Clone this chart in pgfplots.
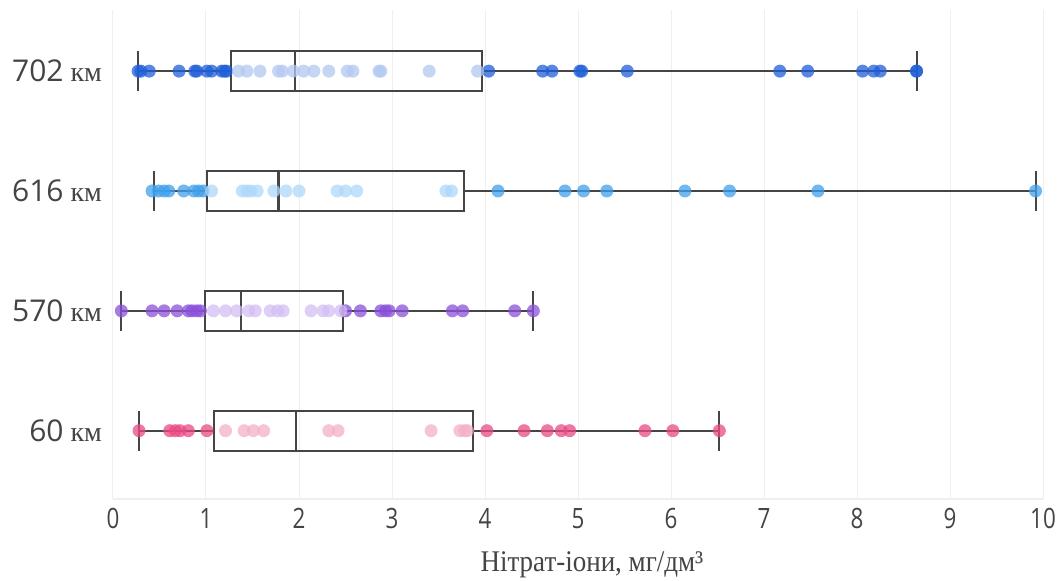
\documentclass[border=0pt]{standalone}
\usepackage{fontspec}
\setmainfont{Liberation Serif}
\newfontfamily\ysans{Open Sans}
\newfontfamily\xsans[FakeStretch=0.8]{Open Sans}
\newfontfamily\lblfont[FakeStretch=0.9]{Liberation Serif}
\usepackage{pgfplots}
\usepgfplotslibrary{statistics}
\pgfplotsset{compat=1.18}
\definecolor{cA}{HTML}{1F5FD8}
\definecolor{cB}{HTML}{3FA0EC}
\definecolor{cC}{HTML}{8A50DA}
\definecolor{cD}{HTML}{EA4A84}
\definecolor{lA}{HTML}{B2C8F2}
\definecolor{lB}{HTML}{AED7FA}
\definecolor{lC}{HTML}{D2BFF2}
\definecolor{lD}{HTML}{F4B0CA}
\definecolor{boxc}{HTML}{454545}
\definecolor{gridc}{HTML}{EFEFEF}
\definecolor{lblc}{HTML}{444444}
\pgfplotsset{
  dots/.style={only marks, mark=*, mark size=3.25pt, draw=none, draw opacity=0,
    fill=#1, fill opacity=0.75,
    mark options={draw=none, draw opacity=0, fill=#1, fill opacity=0.75}},
  bx/.style={boxplot/draw direction=x, draw=boxc, line width=1.1pt,
    boxplot/every box/.style={draw=boxc, line width=1.1pt},
    boxplot/every median/.style={draw=boxc, line width=1.1pt},
    boxplot/every whisker/.style={draw=boxc, line width=1.0pt}},
}
\begin{document}
\begin{tikzpicture}
\useasboundingbox (-56.5pt,-40.5pt) rectangle (473.5pt,249.5pt);
\begin{axis}[
  at={(0,0)}, anchor=south west,
  scale only axis, width=465pt, height=244.5pt,
  xmin=0, xmax=10, ymin=0.43, ymax=4.51,
  clip=false,
  axis x line*=bottom, axis y line*=left,
  x axis line style={draw=gridc, line width=0.6pt, -},
  y axis line style={draw=none},
  tick style={draw=none},
  xmajorgrids, major grid style={draw=gridc, line width=0.5pt},
  xtick={0,1,2,3,4,5,6,7,8,9,10},
  xticklabels={0,1,2,3,4,5,6,7,8,9,10},
  xticklabel style={font=\xsans\fontsize{14}{16}\selectfont, text=lblc, yshift=-1pt},
  ytick={1,2,3,4},
  yticklabels={{\ysans\fontsize{15}{17}\selectfont 60} км,{\ysans\fontsize{15}{17}\selectfont 570} км,{\ysans\fontsize{15}{17}\selectfont 616} км,{\ysans\fontsize{15}{17}\selectfont 702} км},
  yticklabel style={font=\fontsize{14}{16}\selectfont, text=lblc, xshift=-2pt},
  xlabel={Нітрат-іони, мг/дм³},
  xlabel style={font=\lblfont\fontsize{15}{17}\selectfont, text=lblc, at={(axis description cs:0.515,0)}, anchor=center, yshift=-33pt},
]
% ---- 702 km ----
\addplot[dots=cA] coordinates {
(0.27,4)(0.30,4)(0.39,4)(0.71,4)(0.88,4)(0.90,4)(1.01,4)(1.06,4)(1.17,4)(1.20,4)(1.22,4)
(4.04,4)(4.62,4)(4.72,4)(5.02,4)(5.04,4)(5.53,4)(7.17,4)(7.47,4)(8.06,4)(8.18,4)(8.25,4)(8.64,4)(8.64,4)};
\addplot[dots=lA] coordinates {
(1.35,4)(1.44,4)(1.58,4)(1.78,4)(1.82,4)(1.94,4)(2.05,4)(2.16,4)(2.32,4)(2.52,4)(2.58,4)(2.86,4)(2.88,4)(3.40,4)(3.92,4)};
% ---- 616 km ----
\addplot[dots=cB] coordinates {
(0.42,3)(0.49,3)(0.55,3)(0.60,3)(0.76,3)(0.87,3)(0.92,3)(0.97,3)
(4.14,3)(4.86,3)(5.06,3)(5.31,3)(6.15,3)(6.63,3)(7.58,3)(9.92,3)};
\addplot[dots=lB] coordinates {
(1.06,3)(1.39,3)(1.44,3)(1.48,3)(1.55,3)(1.73,3)(1.86,3)(2.00,3)(2.41,3)(2.50,3)(2.62,3)(3.58,3)(3.64,3)};
% ---- 570 km ----
\addplot[dots=cC] coordinates {
(0.09,2)(0.42,2)(0.55,2)(0.69,2)(0.81,2)(0.85,2)(0.90,2)(0.94,2)
(2.50,2)(2.66,2)(2.88,2)(2.93,2)(2.97,2)(3.11,2)(3.65,2)(3.76,2)(4.32,2)(4.52,2)};
\addplot[dots=lC] coordinates {
(1.08,2)(1.21,2)(1.33,2)(1.46,2)(1.53,2)(1.69,2)(1.77,2)(1.83,2)(2.13,2)(2.26,2)(2.32,2)(2.45,2)};
% ---- 60 km ----
\addplot[dots=cD] coordinates {
(0.28,1)(0.61,1)(0.67,1)(0.72,1)(0.81,1)(1.01,1)
(4.02,1)(4.42,1)(4.67,1)(4.82,1)(4.91,1)(5.72,1)(6.02,1)(6.52,1)};
\addplot[dots=lD] coordinates {
(1.21,1)(1.41,1)(1.51,1)(1.62,1)(2.32,1)(2.42,1)(3.42,1)(3.73,1)(3.78,1)(3.81,1)};
% ---- boxes ----
\addplot[bx, boxplot prepared={draw position=4, lower whisker=0.27, lower quartile=1.27, median=1.96, upper quartile=3.97, upper whisker=8.64, box extend=0.333, whisker extend=0.333}] coordinates {};
\addplot[bx, boxplot prepared={draw position=3, lower whisker=0.44, lower quartile=1.01, median=1.78, upper quartile=3.77, upper whisker=9.92, box extend=0.333, whisker extend=0.333}] coordinates {};
\addplot[bx, boxplot prepared={draw position=2, lower whisker=0.09, lower quartile=0.99, median=1.38, upper quartile=2.47, upper whisker=4.52, box extend=0.333, whisker extend=0.333}] coordinates {};
\addplot[bx, boxplot prepared={draw position=1, lower whisker=0.28, lower quartile=1.09, median=1.97, upper quartile=3.87, upper whisker=6.52, box extend=0.333, whisker extend=0.333}] coordinates {};
\end{axis}
\end{tikzpicture}
\end{document}
